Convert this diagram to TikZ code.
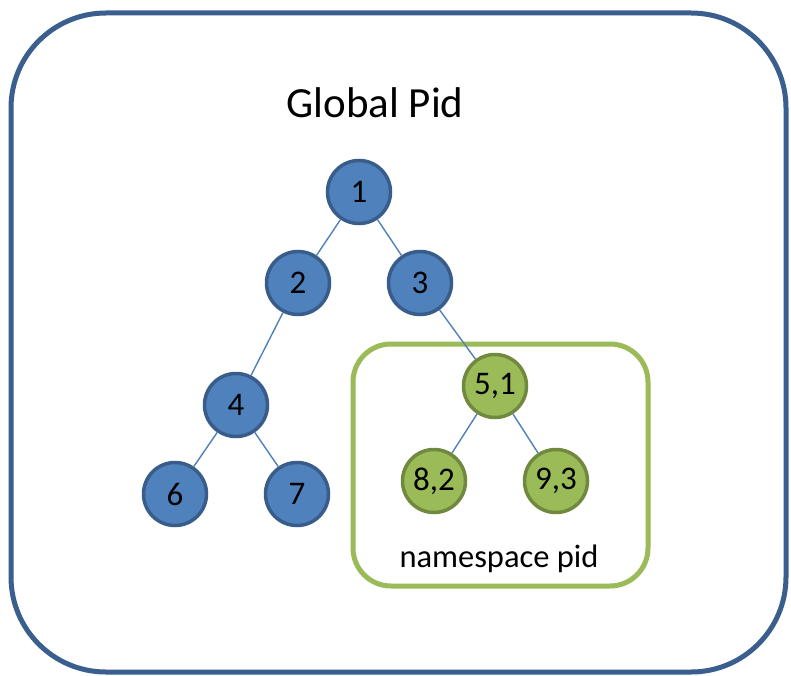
\documentclass[tikz,border=0pt]{standalone}
\usepackage{fontspec}
\setmainfont{Carlito}
\definecolor{bfill}{HTML}{4F81BD}
\definecolor{bline}{HTML}{385D8A}
\definecolor{gfill}{HTML}{9BBB59}
\definecolor{gline}{HTML}{71893F}
\definecolor{outer}{HTML}{3A5F8E}
\tikzset{
  bnode/.style={circle, fill=bfill, draw=bline, line width=3.5pt, minimum size=63pt, inner sep=0pt, font=\fontsize{33}{34}\selectfont},
  gnode/.style={circle, fill=gfill, draw=gline, line width=3.5pt, minimum size=63pt, inner sep=0pt, font=\fontsize{33}{34}\selectfont},
  link/.style={draw=bfill, line width=1.4pt},
}
\begin{document}
\begin{tikzpicture}[x=1pt,y=-1pt]
\useasboundingbox (0,0) rectangle (791,676);
\fill[white] (0,0) rectangle (791,676);
\node[draw=outer, line width=5pt, rounded corners=95pt, minimum width=775pt, minimum height=659pt, inner sep=0pt] (outerbox) at (398.5,342.5) {};
\node[draw=gfill, line width=5pt, rounded corners=38pt, minimum width=295pt, minimum height=242pt, inner sep=0pt] (nsbox) at (500.5,465) {};
\node[font=\fontsize{43}{46}\selectfont, anchor=base] (title) at (375,118) {Global Pid};
\node[font=\fontsize{32.5}{35}\selectfont, anchor=base] (nslabel) at (499,567) {namespace pid};
\node[bnode] (n1) at (359,192) {1};
\node[bnode] (n2) at (298,283) {2};
\node[bnode] (n3) at (420,283) {3};
\node[bnode] (n4) at (236,405) {4};
\node[bnode] (n6) at (175,494) {6};
\node[bnode] (n7) at (297,494) {7};
\node[gnode] (n5) at (495,386) {5,1};
\node[gnode] (n8) at (434,481) {8,2};
\node[gnode] (n9) at (556,481) {9,3};
\draw[link] (n1) -- (n2);
\draw[link] (n1) -- (n3);
\draw[link] (n2) -- (n4);
\draw[link] (n4) -- (n6);
\draw[link] (n4) -- (n7);
\draw[link] (n3) -- (n5);
\draw[link] (n5) -- (n8);
\draw[link] (n5) -- (n9);
\end{tikzpicture}
\end{document}
